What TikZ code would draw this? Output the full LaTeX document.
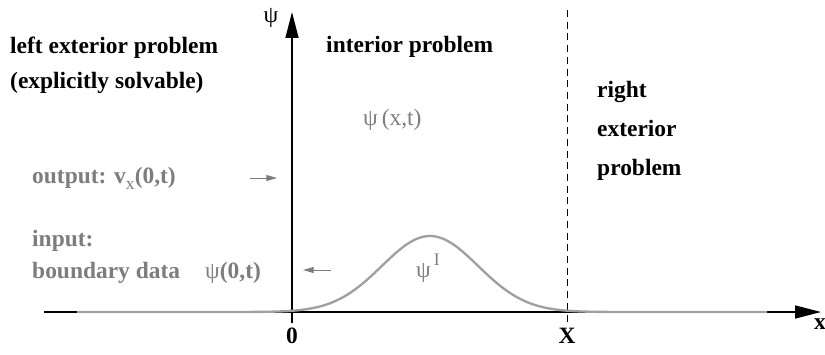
\documentclass[tikz,border=0pt]{standalone}
\usepackage{fontspec}
\setmainfont{Liberation Serif}
\usetikzlibrary{arrows.meta}
\definecolor{txtgray}{RGB}{125,125,125}
\definecolor{curvegray}{RGB}{160,160,160}
\tikzset{
  lbl/.style={font=\fontsize{20}{24}\selectfont\bfseries, inner sep=0pt, anchor=base west},
  glbl/.style={lbl, text=txtgray},
  axis/.style={line width=1.2pt, -{Triangle[length=22pt,width=11pt]}},
  bump/.style={line width=2pt, curvegray},
  small/.style={line width=0.8pt, txtgray, -{Triangle[length=9pt,width=5pt]}}
}
\begin{document}
\begin{tikzpicture}[x=0.03cm,y=0.03cm]
\useasboundingbox (0,0) rectangle (825,354);
% axes
\coordinate (xs) at (44,42);
\coordinate (xe) at (821,42);
\coordinate (ys) at (292,31);
\coordinate (ye) at (292,342);
\draw[axis] (xs) -- (xe);
\draw[axis] (ys) -- (ye);
\node[lbl, anchor=base] (xl) at (820,25) {x};
\node[font=\fontsize{20}{24}\selectfont, inner sep=0pt, anchor=base] (psil) at (271,331) {ψ};
\node[lbl, anchor=base] (zero) at (292,11) {0};
% right boundary
\coordinate (dtop) at (567,344);
\coordinate (dbot) at (567,31);
\draw[line width=0.8pt, dash pattern=on 6pt off 4pt] (dtop) -- (dbot);
\node[lbl, anchor=base] (bigx) at (567,11) {X};
% initial data
\draw[bump] plot[domain=77:767, samples=200] (\x, {42+76*exp(-((\x-430)/68)^2)});
\node[font=\fontsize{20}{24}\selectfont, inner sep=0pt, anchor=base west, text=txtgray] (psii) at (416,77) {ψ\raisebox{1.1ex}{\fontsize{15}{15}\selectfont\,I}};
\node[font=\fontsize{20}{24}\selectfont, inner sep=0pt, anchor=base west, text=txtgray] (psixt) at (363,229) {ψ\,(x,t)};
% regions
\node[lbl] (lefta) at (10,301) {left exterior problem};
\node[lbl] (leftb) at (10,266) {(explicitly solvable)};
\node[lbl] (inner) at (326,302) {interior problem};
\node[lbl] (righta) at (597,257) {right};
\node[lbl] (rightb) at (597,218) {exterior};
\node[lbl] (rightc) at (597,179) {problem};
% transparent boundary
\node[glbl] (outp) at (32,171) {output: v\raisebox{-0.6ex}{\fontsize{15}{15}\selectfont\mdseries x}(0,t)};
\node[glbl] (inpa) at (32,108) {input:};
\node[glbl] (inpb) at (32,76) {boundary data};
\node[glbl] (inpc) at (205,76) {{\mdseries ψ}(0,t)};
\coordinate (oa) at (250,176);
\coordinate (ob) at (277,176);
\coordinate (ia) at (331,84);
\coordinate (ib) at (303,84);
\draw[small] (oa) -- (ob);
\draw[small] (ia) -- (ib);
\end{tikzpicture}
\end{document}
